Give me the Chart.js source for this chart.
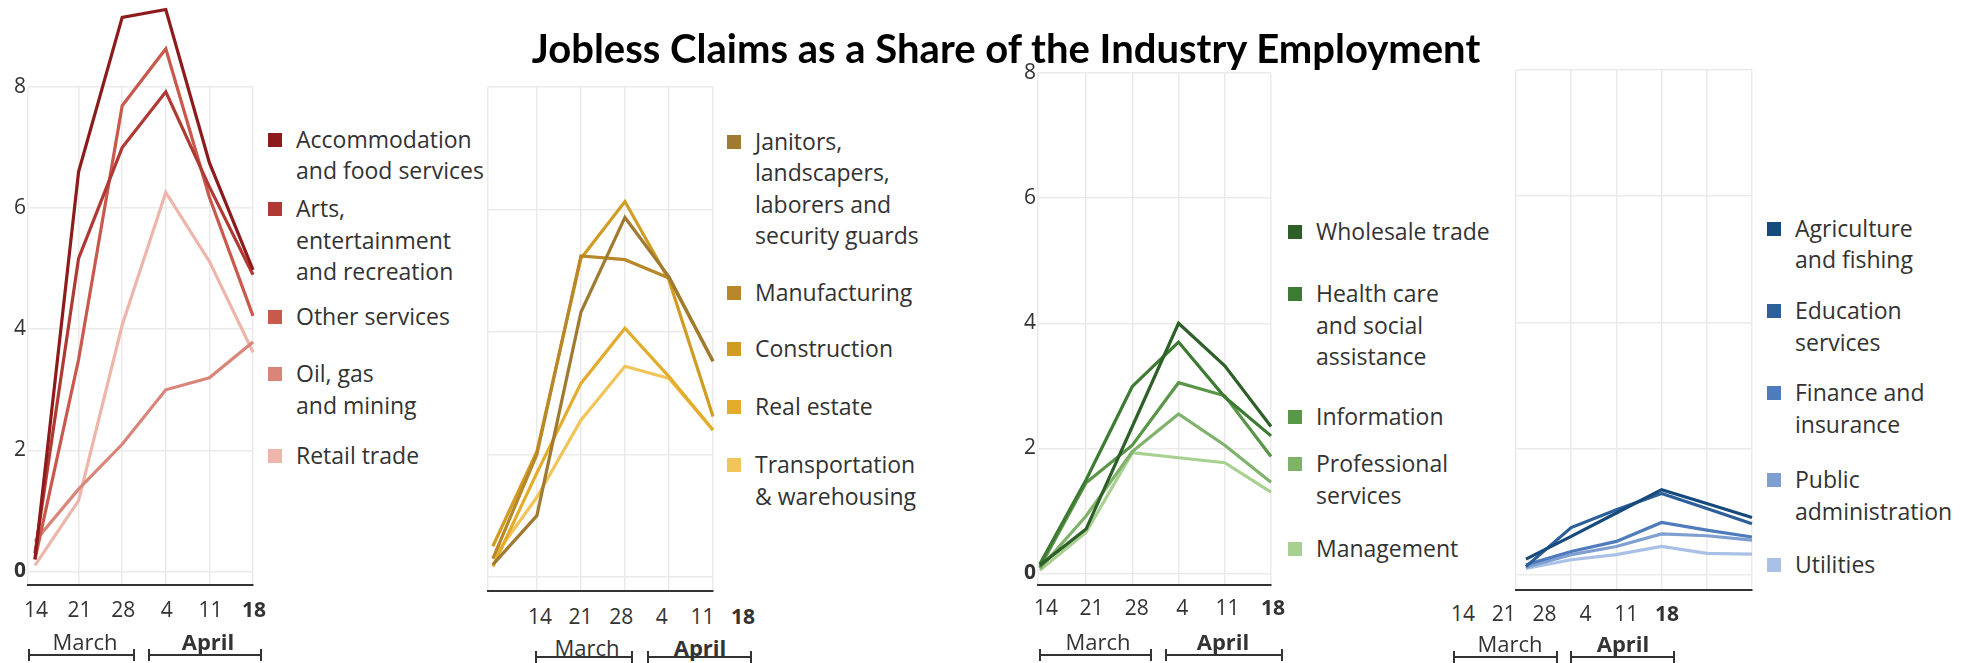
<!DOCTYPE html>
<html>
<head>
<meta charset="utf-8">
<title>Jobless Claims as a Share of the Industry Employment</title>
<script src="https://cdn.jsdelivr.net/npm/chart.js@4.4.0/dist/chart.umd.min.js"></script>
<style>
  body { margin: 0; background: #fff; font-family: 'Open Sans', sans-serif; color: #333; }
  #stage { position: relative; width: 1977px; height: 663px; overflow: hidden; }
  .box { position: absolute; }
  .title {
    position: absolute; left: 0; width: 2012px; top: 24px; text-align: center;
    font: bold 40px Lato, sans-serif; color: #000; z-index: 5; white-space: nowrap;
  }
  .legend-item { position: absolute; font-size: 23px; line-height: 31.5px; color: #333; white-space: nowrap; }
  .legend-item .sw { position: absolute; left: 0; top: 9px; width: 14px; height: 14px; }
  .legend-item .txt { margin-left: 28px; }
  .tick { position: absolute; font-size: 21px; color: #333; transform: translate(-50%, -50%); white-space: nowrap; }
  .month { position: absolute; font-size: 22px; color: #333; transform: translate(-50%, -50%); white-space: nowrap; }
  .bracket { position: absolute; height: 12px; border-left: 2px solid #333; border-right: 2px solid #333; box-sizing: border-box; }
  .bracket::after { content: ''; position: absolute; left: 0; right: 0; top: 5px; height: 2px; background: #333; }
</style>
</head>
<body>
<div id="stage">
  <div class="title">Jobless Claims as a Share of the Industry Employment</div>
</div>
<script>
// week labels and months (same for all four panels)
const dates = ['14', '21', '28', '4', '11', '18'];
const months = ['March', 'April'];

// Panel 1 - leisure / services
const hospitalityNames = [['Accommodation', 'and food services'], ['Arts,', 'entertainment', 'and recreation'], ['Other services'], ['Oil, gas', 'and mining'], ['Retail trade']];
const accommodation = [0.2, 6.6, 9.15, 9.28, 6.75, 4.98];
const arts = [0.3, 5.17, 7.0, 7.92, 6.35, 4.9];
const otherServices = [0.2, 3.5, 7.69, 8.63, 6.18, 4.22];
const oilGas = [0.5, 1.36, 2.1, 3.0, 3.2, 3.79];
const retail = [0.1, 1.17, 4.07, 6.26, 5.12, 3.62];

// Panel 2 - goods / labor
const laborNames = [['Janitors,', 'landscapers,', 'laborers and', 'security guards'], ['Manufacturing'], ['Construction'], ['Real estate'], ['Transportation', '& warehousing']];
const janitors = [0.2, 1.0, 4.32, 5.87, 4.9, 3.52];
const manufacturing = [0.3, 2.0, 5.24, 5.18, 4.88, 3.52];
const construction = [0.5, 2.05, 5.2, 6.13, 4.85, 2.62];
const realEstate = [0.17, 1.7, 3.16, 4.06, 3.27, 2.4];
const transportation = [0.3, 1.3, 2.56, 3.44, 3.24, 2.4];

// Panel 3 - trade / professional
const tradeNames = [['Wholesale trade'], ['Health care', 'and social', 'assistance'], ['Information'], ['Professional', 'services'], ['Management']];
const wholesale = [0.13, 0.71, 2.35, 4.0, 3.32, 2.35];
const healthCare = [0.15, 1.5, 2.99, 3.7, 2.82, 2.2];
const information = [0.1, 1.45, 2.05, 3.05, 2.84, 1.87];
const professional = [0.08, 0.92, 1.95, 2.55, 2.05, 1.46];
const management = [0.05, 0.66, 1.93, 1.85, 1.77, 1.3];

// Panel 4 - public / finance
const publicNames = [['Agriculture', 'and fishing'], ['Education', 'services'], ['Finance and', 'insurance'], ['Public', 'administration'], ['Utilities']];
const agriculture = [0.25, 0.61, 0.98, 1.35, 1.13, 0.91];
const education = [0.13, 0.75, 1.03, 1.29, 1.05, 0.81];
const finance = [0.16, 0.37, 0.53, 0.83, 0.71, 0.6];
const publicAdmin = [0.12, 0.32, 0.45, 0.65, 0.62, 0.55];
const utilities = [0.1, 0.24, 0.32, 0.45, 0.34, 0.33];

const yTicks = [0, 2, 4, 6, 8];

// colours, darkest first
const reds = ['#8e1b1b', '#b03a33', '#c9594c', '#d9857a', '#eeb5ab'];
const golds = ['#a07a30', '#b8872a', '#d19c22', '#e3ad2b', '#f2c55a'];
const greens = ['#2e5f29', '#3d7a33', '#5a9647', '#7fb26a', '#a8d090'];
const blues = ['#174a7c', '#2d6099', '#4f7bbd', '#7e9fd0', '#a9c1e6'];

// layout of each panel (canvas box, plot padding, label positions)
const panels = [
  {
    series: [accommodation, arts, otherServices, oilGas, retail], names: hospitalityNames, colors: reds,
    box: { left: 0, top: 0, width: 265, height: 600 }, yWidth: 28, pad: { left: 0, right: 12, top: 87, bottom: 9 },
    xMin: -0.16, yMin: -0.23, showY: true,
    legendX: 268, legendY: [139.5, 209, 317, 374, 456],
    tickX: 36, tickStep: 43.6, tickY: 609,
    monthY: 641, bracketY: 649, brackets: [[28, 135, 85], [148, 262, 208]]
  },
  {
    series: [janitors, manufacturing, construction, realEstate, transportation], names: laborNames, colors: golds,
    box: { left: 470, top: 0, width: 255, height: 600 }, yWidth: 0, pad: { left: 18, right: 12, top: 87, bottom: 9 },
    xMin: -0.11, yMin: -0.23, showY: false,
    legendX: 727, legendY: [141.6, 292.6, 349, 406.8, 465],
    tickX: 540, tickStep: 40.6, tickY: 616,
    monthY: 647, bracketY: 651, brackets: [[535, 633, 587], [647, 752, 700]]
  },
  {
    series: [wholesale, healthCare, information, professional, management], names: tradeNames, colors: greens,
    box: { left: 1000, top: 0, width: 283, height: 600 }, yWidth: 38, pad: { left: 0, right: 12, top: 73, bottom: 11 },
    xMin: -0.04, yMin: -0.19, showY: true,
    legendX: 1288, legendY: [231.7, 294, 416.5, 463.8, 548.4],
    tickX: 1046, tickStep: 45.4, tickY: 607,
    monthY: 641, bracketY: 649, brackets: [[1039, 1152, 1098], [1165, 1283, 1223]]
  },
  {
    series: [agriculture, education, finance, publicAdmin, utilities], names: publicNames, colors: blues,
    box: { left: 1500, top: 0, width: 264, height: 600 }, yWidth: 0, pad: { left: 16, right: 12, top: 70, bottom: 10 },
    xMin: -0.22, yMin: -0.24, showY: false,
    legendX: 1767, legendY: [228.3, 310.8, 393, 480, 564.5],
    tickX: 1463, tickStep: 40.8, tickY: 613,
    monthY: 643, bracketY: 651, brackets: [[1453, 1558, 1510], [1570, 1675, 1623]]
  }
];

Chart.defaults.font.family = "'Open Sans', sans-serif";
Chart.defaults.color = '#333';

const stage = document.getElementById('stage');

function addEl(cls, css, html) {
  const el = document.createElement('div');
  el.className = cls;
  Object.assign(el.style, css);
  if (html !== undefined) el.innerHTML = html;
  stage.appendChild(el);
  return el;
}

panels.forEach((p) => {
  // canvas for the lines
  const box = addEl('box', {
    left: p.box.left + 'px', top: p.box.top + 'px',
    width: p.box.width + 'px', height: p.box.height + 'px'
  });
  const canvas = document.createElement('canvas');
  box.appendChild(canvas);

  new Chart(canvas.getContext('2d'), {
    type: 'line',
    data: {
      datasets: p.series.map((s, i) => ({
        label: p.names[i].join(' '),
        data: s.map((v, j) => ({ x: j, y: v })),
        borderColor: p.colors[i],
        backgroundColor: p.colors[i],
        borderWidth: 3.2,
        pointRadius: 0,
        tension: 0,
        clip: false
      }))
    },
    options: {
      responsive: true,
      maintainAspectRatio: false,
      animation: false,
      events: [],
      layout: { padding: p.pad },
      plugins: { legend: { display: false }, tooltip: { enabled: false } },
      scales: {
        x: {
          type: 'linear',
          min: p.xMin,
          max: 5,
          afterBuildTicks: scale => {
            scale.ticks = [p.xMin, 1, 2, 3, 4, 5].map(v => ({ value: v }));
          },
          afterFit: scale => { scale.height = 0; },
          ticks: { display: false },
          grid: { color: '#ebebeb', lineWidth: 1.5, drawTicks: false },
          border: { display: true, color: '#333', width: 2 }
        },
        y: {
          min: p.yMin,
          max: 8,
          afterBuildTicks: scale => {
            scale.ticks = yTicks.map(v => ({ value: v }));
          },
          afterFit: scale => { scale.width = p.yWidth; },
          ticks: {
            display: p.showY,
            padding: 2,
            color: '#333',
            font: ctx => ({ size: 21, weight: ctx.tick && ctx.tick.value === 0 ? 'bold' : 'normal' })
          },
          grid: { color: '#ebebeb', lineWidth: 1.5, drawTicks: false },
          border: { display: false }
        }
      }
    }
  });

  // legend
  p.names.forEach((lines, i) => {
    const item = addEl('legend-item', {
      left: p.legendX + 'px',
      top: (p.legendY[i] - 15.75) + 'px'
    }, '<span class="sw"></span><div class="txt">' + lines.join('<br>') + '</div>');
    item.querySelector('.sw').style.background = p.colors[i];
  });

  // week tick labels
  dates.forEach((d, i) => {
    addEl('tick', {
      left: (p.tickX + i * p.tickStep) + 'px',
      top: p.tickY + 'px',
      fontWeight: i === dates.length - 1 ? 'bold' : 'normal'
    }, d);
  });

  // month brackets
  months.forEach((m, i) => {
    const b = p.brackets[i];
    addEl('bracket', { left: b[0] + 'px', width: (b[1] - b[0]) + 'px', top: p.bracketY + 'px' });
    addEl('month', {
      left: b[2] + 'px', top: p.monthY + 'px',
      fontWeight: i === 1 ? 'bold' : 'normal'
    }, m);
  });
});
</script>
</body>
</html>
